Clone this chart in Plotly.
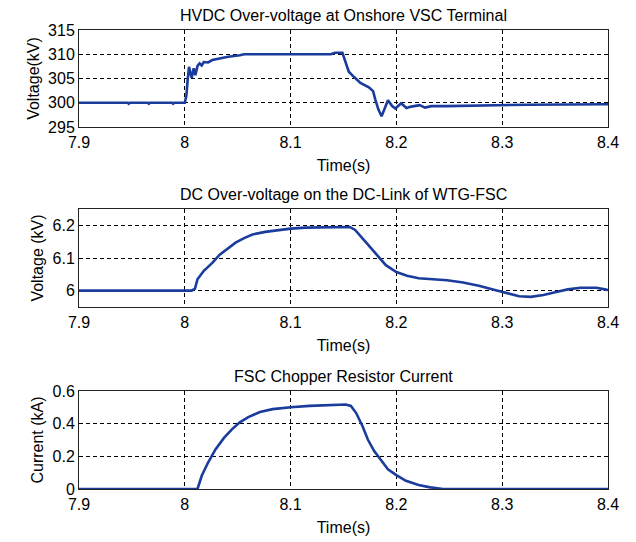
import plotly.graph_objects as go

# ---- Data ----
x_ticks = [7.9, 8.0, 8.1, 8.2, 8.3, 8.4]
x_tick_labels = ["7.9", "8", "8.1", "8.2", "8.3", "8.4"]

titles = ["HVDC Over-voltage at Onshore VSC Terminal",
          "DC Over-voltage on the DC-Link of WTG-FSC",
          "FSC Chopper Resistor Current"]
y_titles = ["Voltage(kV)", "Voltage (kV)", "Current (kA)"]

# HVDC voltage at onshore terminal (kV)
t1 = [7.9, 7.946, 7.947, 7.948, 7.965, 7.966, 7.967, 7.988, 7.989, 7.990, 8.0, 8.0015,
      8.0027, 8.004, 8.0065, 8.0084, 8.010, 8.012, 8.014, 8.016, 8.018, 8.022, 8.026,
      8.033, 8.041, 8.052, 8.056, 8.138, 8.142, 8.149, 8.152, 8.155, 8.160, 8.166,
      8.174, 8.178, 8.180, 8.183, 8.186, 8.188, 8.192, 8.196, 8.199, 8.2045, 8.2095,
      8.214, 8.222, 8.227, 8.233, 8.248, 8.286, 8.324, 8.4]
v1 = [300.0, 300.0, 299.8, 300.0, 300.0, 299.8, 300.0, 300.0, 299.8, 300.0, 300.0, 301.5,
      304.7, 307.4, 305.1, 307.1, 305.7, 307.6, 308.1, 307.7, 308.4, 308.3, 308.8,
      309.1, 309.5, 309.8, 310.0, 310.0, 310.3, 310.3, 308.4, 306.4, 305.3, 304.1,
      303.2, 302.4, 300.7, 298.6, 297.2, 298.3, 300.5, 299.3, 298.8, 299.9, 298.9,
      299.2, 299.5, 299.0, 299.3, 299.3, 299.5, 299.6, 299.7]

# DC-link voltage of WTG-FSC (kV)
t2 = [7.9, 8.0065, 8.0096, 8.012, 8.018, 8.026, 8.033, 8.041, 8.048, 8.056, 8.064,
      8.076, 8.091, 8.100, 8.114, 8.133, 8.156, 8.161, 8.167, 8.175, 8.183, 8.190,
      8.200, 8.210, 8.221, 8.233, 8.248, 8.263, 8.278, 8.293, 8.305, 8.316, 8.327,
      8.339, 8.351, 8.362, 8.374, 8.389, 8.397, 8.4]
v2 = [6.000, 6.000, 6.006, 6.035, 6.061, 6.085, 6.110, 6.130, 6.147, 6.161, 6.172,
      6.180, 6.186, 6.190, 6.193, 6.194, 6.195, 6.186, 6.165, 6.134, 6.104, 6.078,
      6.057, 6.046, 6.038, 6.035, 6.032, 6.025, 6.015, 6.002, 5.992, 5.983, 5.981,
      5.987, 5.996, 6.004, 6.009, 6.009, 6.004, 6.002]

# Chopper resistor current (kA)
t3 = [7.9, 8.012, 8.016, 8.022, 8.029, 8.037, 8.045, 8.052, 8.060, 8.071, 8.083,
      8.100, 8.118, 8.137, 8.152, 8.157, 8.162, 8.168, 8.173, 8.179, 8.185, 8.192,
      8.200, 8.209, 8.221, 8.232, 8.244, 8.4]
i3 = [0.0, 0.0, 0.081, 0.162, 0.242, 0.313, 0.368, 0.408, 0.440, 0.471, 0.489,
      0.501, 0.509, 0.513, 0.517, 0.509, 0.465, 0.384, 0.303, 0.232, 0.182, 0.121,
      0.085, 0.050, 0.024, 0.010, 0.0, 0.0]

y_ranges = [[295, 315], [5.95, 6.25], [0, 0.6]]
y_tickvals = [[295, 300, 305, 310, 315], [6.0, 6.1, 6.2], [0, 0.2, 0.4, 0.6]]
y_ticktext = [["295", "300", "305", "310", "315"], ["6", "6.1", "6.2"],
              ["0", "0.2", "0.4", "0.6"]]

series = [(t1, v1), (t2, v2), (t3, i3)]

# ---- Figure ----
LINE = "#1a3c9c"
FONT = "Liberation Sans, Arial, sans-serif"
domains = [[0.7887, 1.0], [0.3965, 0.61], [0.0, 0.2135]]

fig = go.Figure()
for k, (tx, ty) in enumerate(series):
    sfx = "" if k == 0 else str(k + 1)
    fig.add_trace(go.Scatter(x=tx, y=ty, mode="lines",
                             line=dict(color=LINE, width=2.6),
                             xaxis="x" + sfx, yaxis="y" + sfx,
                             showlegend=False, hoverinfo="skip"))

# the page body adds an 8px offset, so the figure is sized to fit the window
layout = dict(
    width=628, height=534,
    margin=dict(l=71, r=28, t=22, b=53, autoexpand=False),
    paper_bgcolor="white", plot_bgcolor="white",
    font=dict(family=FONT, size=16, color="black"),
    showlegend=False,
    annotations=[],
)

for k in range(3):
    sfx = "" if k == 0 else str(k + 1)
    common_axis = dict(showline=True, mirror=True, linecolor="#222222", linewidth=1,
                       showgrid=True, gridcolor="black", gridwidth=1,
                       griddash="4px,3px", zeroline=False, ticks="",
                       automargin=False,
                       tickfont=dict(family=FONT, size=16, color="black"))
    layout["xaxis" + sfx] = dict(
        common_axis, domain=[0, 1], anchor="y" + sfx, range=[7.9, 8.4],
        tickmode="array", tickvals=x_ticks, ticktext=x_tick_labels,
        ticklabelstandoff=1,
        title=dict(text="Time(s)", standoff=9, font=dict(family=FONT, size=16)),
    )
    layout["yaxis" + sfx] = dict(
        common_axis, domain=domains[k], anchor="x" + sfx, range=y_ranges[k],
        tickmode="array", tickvals=y_tickvals[k], ticktext=y_ticktext[k],
        title=dict(text=y_titles[k], standoff=4, font=dict(family=FONT, size=16)),
    )
    layout["annotations"].append(dict(
        text=titles[k], xref="x" + sfx + " domain", yref="y" + sfx + " domain",
        x=0.5, y=1.0, yshift=4, xanchor="center", yanchor="bottom", showarrow=False,
        font=dict(family=FONT, size=16, color="black")))

fig.update_layout(**layout)
fig.write_html("out.html")
